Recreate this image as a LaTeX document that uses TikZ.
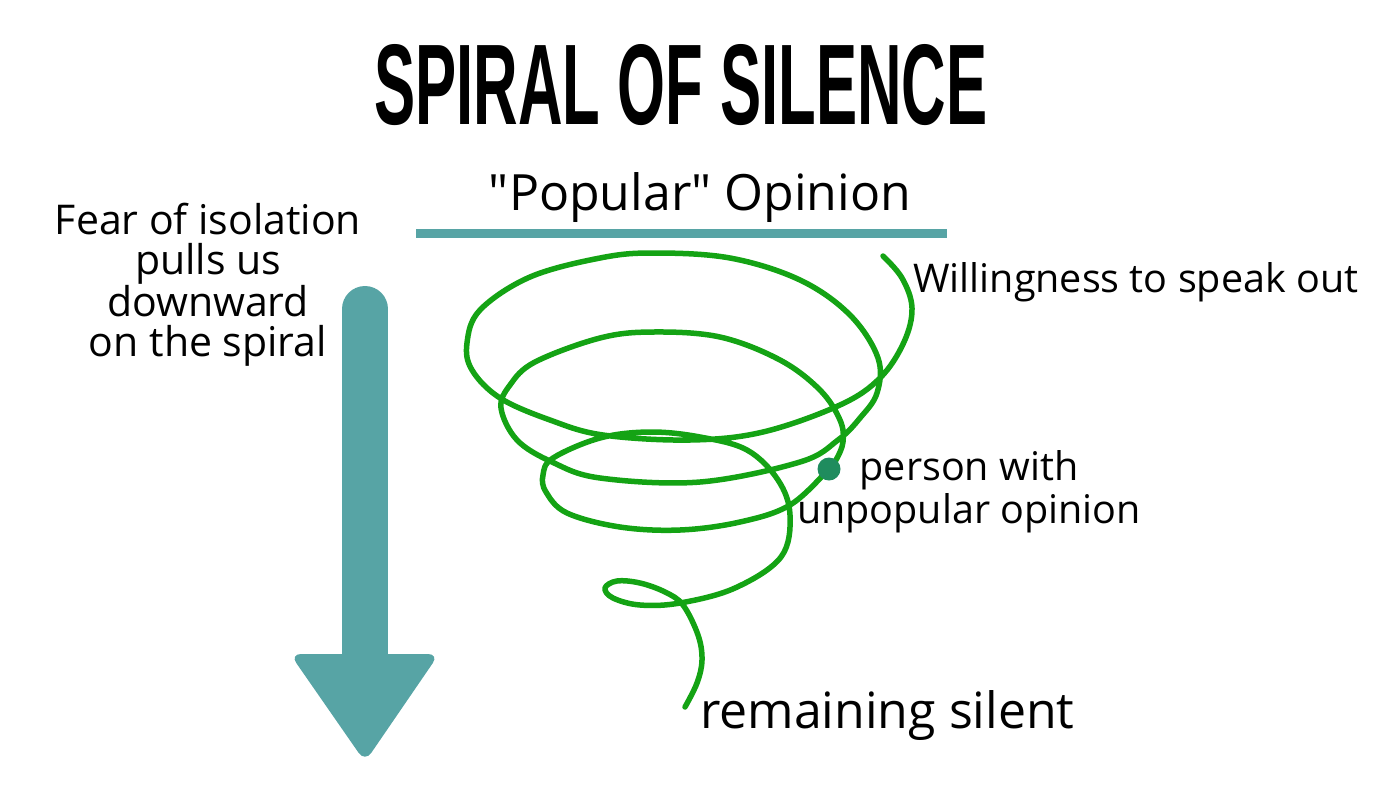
\documentclass[tikz,border=0pt]{standalone}
\usepackage{fontspec}
\setmainfont{Open Sans}
\newfontfamily\headfont{Liberation Sans}
\usepackage{graphicx}
\usetikzlibrary{calc, positioning}
\definecolor{sosTeal}{HTML}{57A4A5}
\definecolor{sosGreen}{HTML}{14A314}
\definecolor{sosDot}{HTML}{1F8C5E}
\tikzset{
  sosfig/.style={x=1pt, y=-1pt},
  sosText/.style={inner sep=0pt, font=\fontsize{41}{40}\selectfont},
  sosLabel/.style={inner sep=0pt, font=\fontsize{39.5}{43}\selectfont},
  sosBig/.style={inner sep=0pt, font=\fontsize{50}{54}\selectfont},
  coil/.style={sosGreen, line width=5.5pt, line cap=round, line join=round},
}
\def\ShaftW{46}
\def\BarW{9}

\begin{document}
\begin{tikzpicture}[sosfig]
  \useasboundingbox (0,0) rectangle (1400,788);

  % ----- title -----
  \node[inner sep=0pt] (title) at (681,85)
    {\resizebox{613pt}{80pt}{\headfont\bfseries SPIRAL OF SILENCE}};

  % ----- popular opinion bar -----
  \coordinate (BarL) at (416,233);
  \coordinate (BarR) at (947,233);
  \draw[sosTeal, line width=\BarW pt] (BarL) -- (BarR);
  \node[sosBig, anchor=base] (popular) at (700,210)
    {\textquotedbl Popular\textquotedbl\ Opinion};

  % ----- downward arrow -----
  \coordinate (ArrTop) at (365,309);
  \coordinate (ArrNeck) at (365,675);
  \draw[sosTeal, line width=\ShaftW pt, line cap=round] (ArrTop) -- (ArrNeck);
  \fill[sosTeal, rounded corners=11pt] (290,654) -- (439,654) -- (365,762) -- cycle;
  \node[sosText, align=center] (fear) at (208,285)
    {Fear of isolation\\pulls us\\downward\\on the spiral};

  % ----- spiral -----
  \draw[coil] plot[smooth, tension=0.6] coordinates {
    (883,256) (902,278) (912,308) (904,342) (880,378) (840,405)
    (763,432) (690,440) (603,435) (550,420) (500,398) (472,370)
    (467,343) (480,310) (530,277) (600,258) (653,253) (730,258)
    (800,280) (850,315) (878,358) (877,393) (860,418) (838,440)
    (800,462) (700,482) (600,478) (552,462) (517,440) (501,408)
    (510,385) (535,362) (600,338) (653,332) (720,337) (780,360)
    (820,390) (840,420) (843,442) (836,460) (829,469) (790,505)
    (740,522) (680,530) (620,527) (567,513) (546,492) (543,475)
    (553,458) (600,438) (650,432) (700,437) (747,450) (778,480)
    (790,515) (781,557) (735,588) (680,603) (640,605) (613,598)
    (605,588) (617,581) (640,583) (665,592) (683,605) (698,635)
    (702,660) (697,683) (685,707)};

  % ----- person marker and labels -----
  \fill[sosDot] (829,469) circle (11.5pt);
  \coordinate (person) at (829,469);
  \node[sosLabel, align=center] (unpop) at (969,492)
    {person with\\unpopular opinion};
  \node[sosLabel, anchor=base west] (speak) at (913,292)
    {Willingness to speak out};
  \node[sosBig, anchor=base west] (silent) at (700,728)
    {remaining silent};
\end{tikzpicture}
\end{document}
